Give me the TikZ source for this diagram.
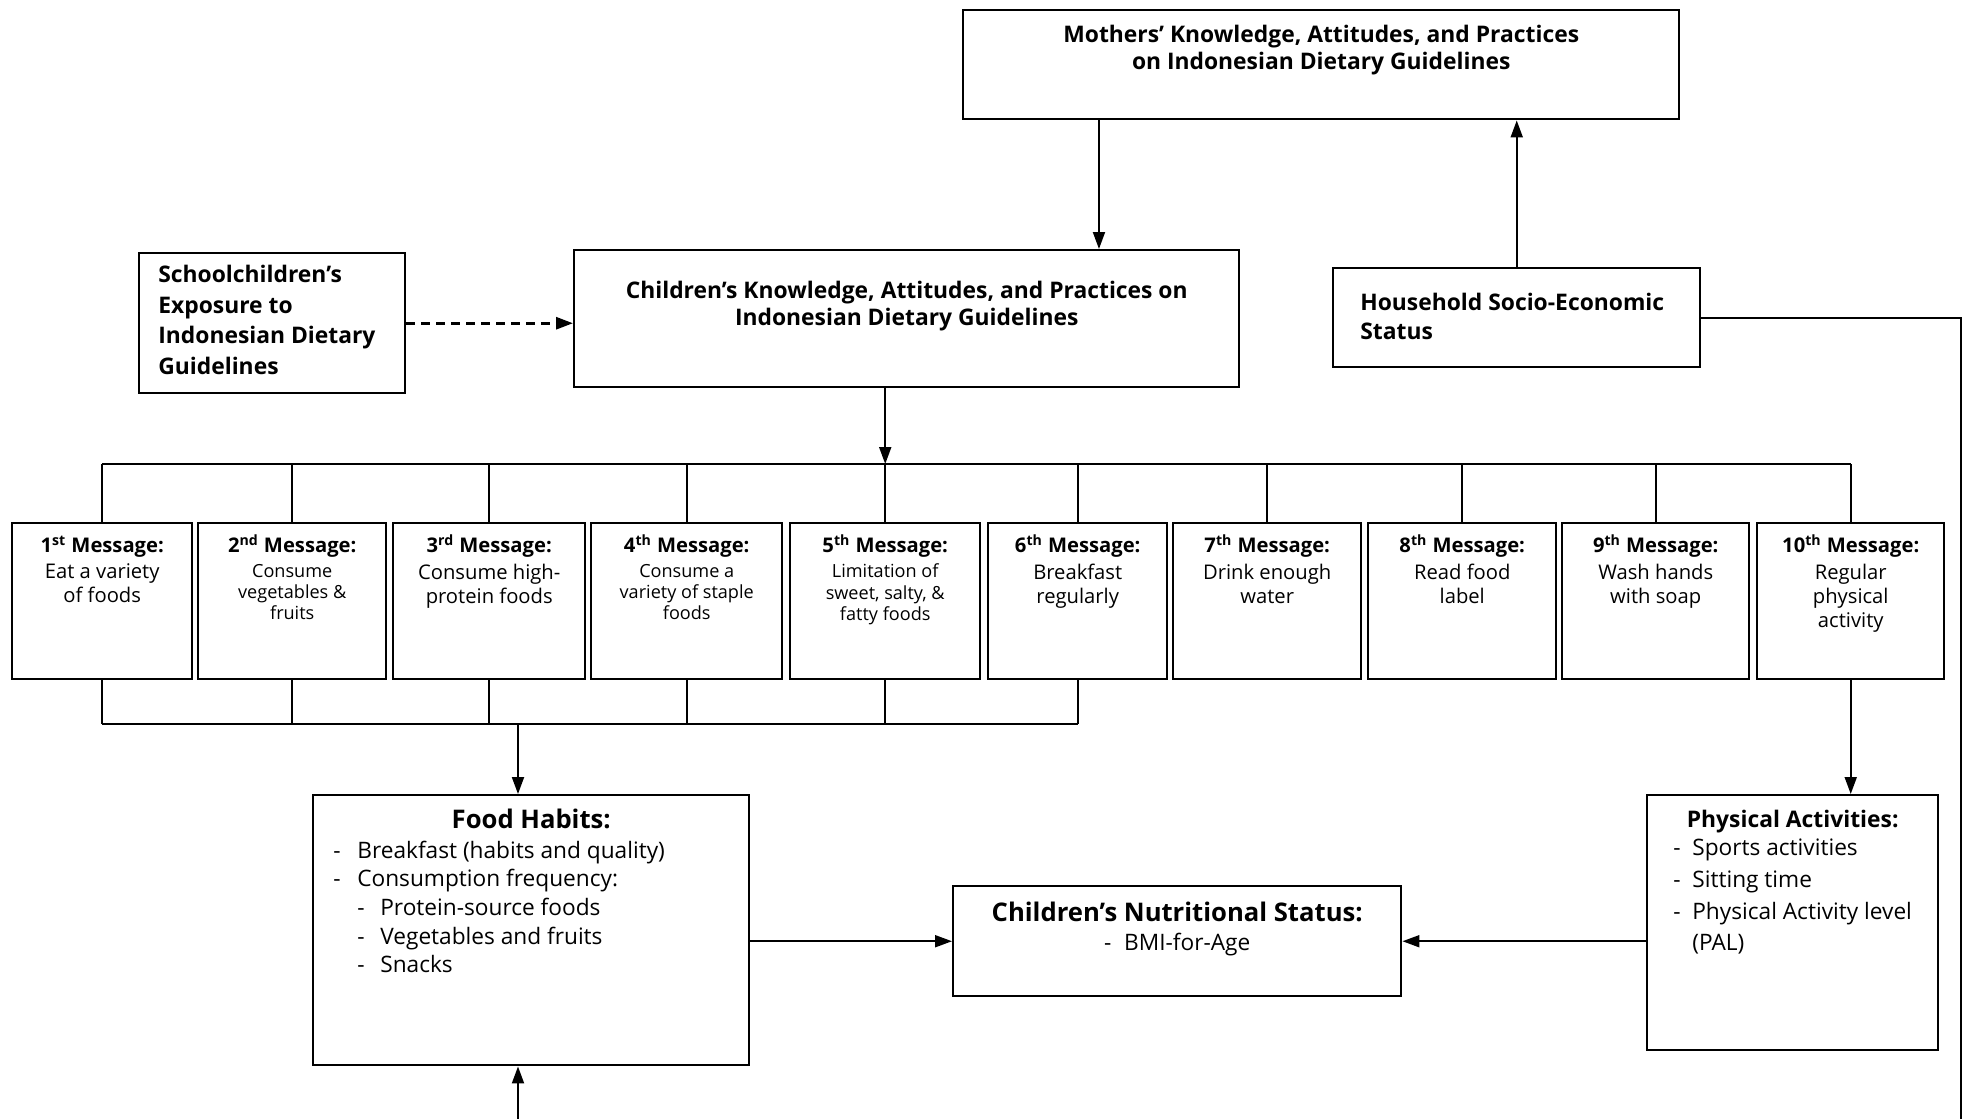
\documentclass[tikz,border=0pt]{standalone}
\usepackage{fontspec}
\setmainfont{Open Sans}
\usetikzlibrary{positioning}
\usetikzlibrary{calc}
\usetikzlibrary{arrows.meta}
\newcommand\itemdash{\makebox[0.48cm][l]{-}}
\newcommand\subitemdash{\hspace*{0.48cm}\makebox[0.46cm][l]{-}}
\tikzset{
    % Solid triangular heads, as in the printed figure
    >={Triangle[length=0.34cm,width=0.24cm]},
%
    % The frame of a box; its text is set as a node of its own
    frame box/.style={draw, line width=1.4pt, inner sep=0, anchor=north west},
%
    % Text hanging from the top edge of a frame
    box text/.style={anchor=north, align=center, inner sep=0},
    % Left aligned text inside a frame
    left text/.style={align=left, inner sep=0},
%
    % Connecting lines
    link/.style={line width=1.1pt},
    dashed link/.style={line width=1.6pt, dash pattern=on 5pt off 3.5pt},
%
    % Fonts; the argument is the line spacing
    head font/.style={font=\fontsize{13}{#1}\selectfont\bfseries},
    head font/.default=15.5,
    msg head/.style={font=\fontsize{11.5}{14}\selectfont\bfseries,
        text height=10pt, text depth=3pt},
    msg body/.style={font=\fontsize{11.5}{13.6}\selectfont},
    msg small/.style={font=\fontsize{10.3}{12.2}\selectfont},
    big head/.style={font=\fontsize{14.6}{18}\selectfont\bfseries},
    list head/.style={font=\fontsize{13}{18}\selectfont\bfseries},
    list font/.style={font=\fontsize{12.9}{#1}\selectfont},
    list font/.default=16.3}

\begin{document}
\begin{tikzpicture}[x=0.02cm, y=-0.02cm]
\useasboundingbox (0,0) rectangle (1972,1119);

% Top row
\node [frame box, minimum width=716*0.02cm, minimum height=109*0.02cm]
    (mothers) at (962,9) {};
\node [box text, head font, below=0.32cm of mothers.north]
    {Mothers’ Knowledge, Attitudes, and Practices\\on Indonesian Dietary Guidelines};

\node [frame box, minimum width=665*0.02cm, minimum height=137*0.02cm]
    (kids) at (573,249) {};
\node [box text, head font, below=0.64cm of kids.north]
    {Children’s Knowledge, Attitudes, and Practices on\\Indonesian Dietary Guidelines};

\node [frame box, minimum width=266*0.02cm, minimum height=140*0.02cm]
    (school) at (138,252) {};
\node [left text, head font=17.4, anchor=north west,
    below right=0.26cm and 0.4cm of school.north west]
    {Schoolchildren’s\\Exposure to\\Indonesian Dietary\\Guidelines};

\node [frame box, minimum width=367*0.02cm, minimum height=99*0.02cm]
    (household) at (1332,267) {};
\node [left text, head font=16.5, anchor=north west,
    below right=0.51cm and 0.56cm of household.north west]
    {Household Socio-Economic\\Status};

% The ten messages
\foreach \n/\x/\w/\ord/\style/\body in {
    1/11/180/st/msg body/{Eat a variety\\of foods},
    2/197/188/nd/msg small/{Consume\\vegetables \&\\fruits},
    3/392/192/rd/msg body/{Consume high-\\protein foods},
    4/590/191/th/msg small/{Consume a\\variety of staple\\foods},
    5/789/190/th/msg small/{Limitation of\\sweet, salty, \&\\fatty foods},
    6/987/179/th/msg body/{Breakfast\\regularly},
    7/1172/188/th/msg body/{Drink enough\\water},
    8/1367/188/th/msg body/{Read food\\label},
    9/1561/187/th/msg body/{Wash hands\\with soap},
    10/1756/187/th/msg body/{Regular\\physical\\activity}}
{
    \node [frame box, minimum width=\w*0.02cm, minimum height=156*0.02cm]
        (m\n) at (\x,522) {};
    \node [box text, msg head, below=0.26cm of m\n.north] (t\n)
        {\n\textsuperscript{\ord} Message:};
    \node [box text, \style, below=0.1cm of t\n] {\body};
}

% Outcomes
\node [frame box, minimum width=436*0.02cm, minimum height=270*0.02cm]
    (food) at (312,794) {};
\node [box text, big head, below=0.3cm of food.north] {Food Habits:};
\node [left text, list font, anchor=north west,
    below right=0.93cm and 0.42cm of food.north west]
    {\itemdash Breakfast (habits and quality)\\
     \itemdash Consumption frequency:\\
     \subitemdash Protein-source foods\\
     \subitemdash Vegetables and fruits\\
     \subitemdash Snacks};

\node [frame box, minimum width=448*0.02cm, minimum height=110*0.02cm]
    (nutri) at (952,885) {};
\node [box text, big head, below=0.33cm of nutri.north] (nutri title)
    {Children’s Nutritional Status:};
\node [box text, list font, below=0.22cm of nutri title]
    {\makebox[0.4cm][l]{-}BMI-for-Age};

\node [frame box, minimum width=291*0.02cm, minimum height=255*0.02cm]
    (activity) at (1646,794) {};
\node [box text, list head, below=0.32cm of activity.north]
    (activity title) {Physical Activities:};
\node [left text, list font=18, anchor=north west,
    below right=0.9cm and 0.54cm of activity.north west]
    {\makebox[0.38cm][l]{-}Sports activities\\
     \makebox[0.38cm][l]{-}Sitting time\\
     \makebox[0.38cm][l]{-}Physical Activity level\\
     \hspace*{0.38cm}(PAL)};

% Buses and connectors
\coordinate (top bus) at (0,464);
\coordinate (bottom bus) at (0,724);
\coordinate (foot) at (518,1119);
\coordinate (ses end) at (1961,1119);

\draw [link, ->] ([xshift=2.74cm]mothers.south west)
    -- ([xshift=2.74cm]mothers.south west |- kids.north);
\draw [link, ->] (household.north) -- (household.north |- mothers.south);
\draw [link] (household.east) -| (ses end);
\draw [dashed link, ->] (school.east) -- (school.east -| kids.west);

\draw [link, ->] (m5.north |- kids.south) -- (m5.north |- top bus);
\draw [link] (m1.north |- top bus) -- (m10.north |- top bus);
\foreach \n in {1,...,10}
    \draw [link] (m\n.north) -- (m\n.north |- top bus);

\draw [link] (m1.south |- bottom bus) -- (m6.south |- bottom bus);
\foreach \n in {1,...,6}
    \draw [link] (m\n.south) -- (m\n.south |- bottom bus);
\draw [link, ->] (foot |- bottom bus) -- (foot |- food.north);
\draw [link, ->] (foot) -- (foot |- food.south);

\draw [link, ->] (m10.south) -- (m10.south |- activity.north);
\draw [link, ->] (nutri.west -| food.east) -- (nutri.west);
\draw [link, ->] (nutri.east -| activity.west) -- (nutri.east);

\end{tikzpicture}
\end{document}
